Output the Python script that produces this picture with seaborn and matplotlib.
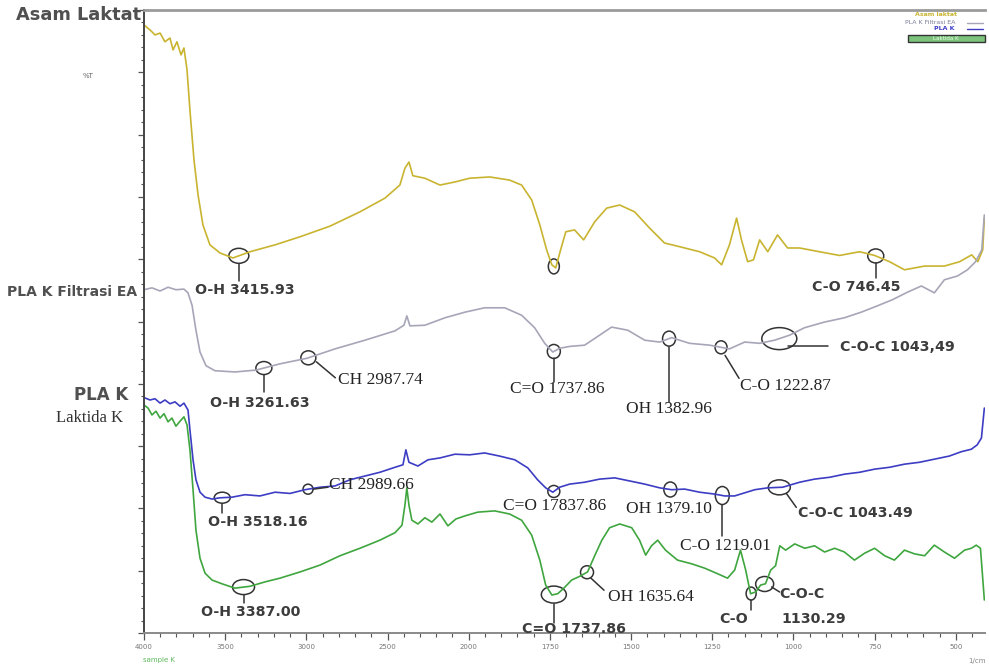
import numpy as np
import pandas as pd
import matplotlib
matplotlib.use("Agg")
import matplotlib.pyplot as plt
import matplotlib.transforms as mtransforms
from matplotlib.patches import Ellipse, Rectangle
from matplotlib.lines import Line2D
import seaborn as sns

# ---- FTIR spectra: wavenumber (cm-1) and transmittance (%T, stacked) ----
asam_wn = [4000, 3963, 3932, 3901, 3871, 3840, 3821, 3797, 3772, 3754, 3735, 3717, 3692,
           3667, 3637, 3594, 3532, 3452, 3347, 3193, 3039, 2855, 2670, 2516, 2424, 2393,
           2368, 2344, 2270, 2177, 2085, 1997, 1935, 1874, 1837, 1806, 1781, 1760, 1744,
           1732, 1717, 1701, 1674, 1646, 1612, 1575, 1535, 1489, 1443, 1397, 1350, 1289,
           1243, 1221, 1197, 1175, 1160, 1141, 1123, 1104, 1079, 1049, 1018, 981, 920,
           858, 796, 750, 704, 658, 596, 535, 488, 451, 432, 417, 412]
asam_t = [97.6, 96.8, 96.0, 96.3, 94.9, 95.5, 93.6, 94.9, 92.8, 93.9, 90.4, 83.9, 75.9,
          70.3, 65.5, 62.3, 61.0, 60.2, 61.2, 62.3, 63.6, 65.3, 67.6, 69.8, 71.9, 74.6,
          75.6, 73.4, 73.0, 71.9, 72.4, 73.0, 73.2, 72.7, 71.9, 69.5, 65.5, 61.5, 59.1,
          58.6, 61.5, 64.4, 64.7, 63.1, 66.0, 68.2, 68.7, 67.6, 65.0, 62.6, 62.0, 61.2,
          60.2, 59.1, 62.3, 66.6, 63.1, 59.6, 59.9, 63.1, 61.2, 63.9, 61.8, 61.8, 61.2,
          60.6, 61.2, 60.6, 59.6, 58.3, 58.9, 58.9, 59.6, 60.7, 59.6, 61.5, 66.6]

filtrasi_wn = [4000, 3951, 3901, 3852, 3803, 3754, 3729, 3704, 3680, 3655, 3618, 3563,
               3440, 3310, 3163, 2996, 2824, 2639, 2454, 2399, 2381, 2362, 2270, 2146,
               2023, 1951, 1889, 1837, 1797, 1766, 1741, 1720, 1689, 1643, 1597, 1560,
               1510, 1458, 1412, 1375, 1320, 1258, 1197, 1150, 1104, 1058, 1012, 966,
               905, 843, 791, 742, 695, 649, 606, 566, 535, 495, 464, 439, 420, 412]
filtrasi_t = [55.1, 55.4, 54.9, 55.5, 55.1, 55.2, 54.6, 52.6, 48.6, 45.1, 42.9, 42.1,
              41.9, 42.2, 43.2, 44.1, 45.6, 47.0, 48.5, 49.4, 50.9, 49.3, 49.4, 50.6,
              51.5, 52.2, 52.2, 51.0, 49.0, 46.5, 45.1, 45.7, 46.0, 46.2, 47.8, 49.1,
              48.6, 47.0, 46.7, 47.4, 46.5, 46.2, 45.6, 46.7, 46.5, 47.0, 47.8, 49.0,
              49.9, 50.6, 51.5, 52.5, 53.5, 54.7, 55.7, 54.6, 56.7, 57.3, 58.3, 59.6,
              61.5, 67.1]

pla_wn = [4000, 3963, 3932, 3901, 3871, 3840, 3809, 3778, 3754, 3729, 3717, 3698, 3680,
          3655, 3624, 3581, 3532, 3458, 3378, 3286, 3193, 3101, 3009, 2916, 2824, 2731,
          2639, 2547, 2454, 2405, 2387, 2368, 2313, 2251, 2177, 2085, 1997, 1951, 1905,
          1858, 1818, 1788, 1763, 1741, 1720, 1689, 1643, 1597, 1550, 1504, 1458, 1412,
          1375, 1335, 1289, 1243, 1212, 1181, 1150, 1119, 1079, 1033, 981, 935, 888,
          842, 796, 750, 704, 658, 612, 566, 520, 483, 452, 434, 421, 412]
pla_t = [37.8, 37.4, 37.6, 36.9, 37.4, 36.8, 37.1, 36.4, 36.9, 35.8, 32.6, 27.8, 24.6,
         22.6, 21.8, 21.5, 21.7, 21.8, 22.2, 22.0, 22.6, 22.4, 23.0, 23.4, 23.6, 24.6,
         25.2, 25.8, 26.6, 27.0, 29.4, 27.4, 26.8, 27.8, 28.1, 28.7, 28.6, 28.9, 28.4,
         27.8, 26.5, 24.6, 23.3, 22.6, 23.4, 23.9, 24.2, 24.7, 24.9, 24.4, 23.9, 23.3,
         23.0, 23.1, 22.6, 22.3, 22.0, 22.0, 22.5, 23.0, 23.3, 23.4, 24.2, 24.7, 25.0,
         25.5, 25.8, 26.3, 26.6, 27.1, 27.4, 27.9, 28.4, 29.1, 29.5, 30.2, 31.3, 36.1]

laktida_wn = [4000, 3975, 3951, 3926, 3901, 3877, 3852, 3828, 3803, 3778, 3754, 3735,
              3717, 3698, 3680, 3655, 3624, 3581, 3520, 3440, 3347, 3255, 3163, 3039,
              2916, 2793, 2670, 2547, 2454, 2411, 2393, 2381, 2368, 2350, 2313, 2270,
              2227, 2177, 2128, 2079, 2023, 1972, 1920, 1874, 1837, 1806, 1781, 1763,
              1744, 1726, 1707, 1683, 1658, 1634, 1612, 1590, 1566, 1535, 1498, 1474,
              1455, 1437, 1418, 1394, 1357, 1313, 1273, 1233, 1203, 1181, 1163, 1147,
              1132, 1116, 1101, 1086, 1070, 1055, 1042, 1024, 996, 965, 935, 904, 873,
              843, 812, 781, 750, 719, 689, 658, 627, 596, 566, 535, 504, 473, 452, 437,
              424, 412]
laktida_t = [36.6, 36.1, 35.0, 35.6, 34.5, 35.2, 33.9, 34.5, 33.2, 34.0, 34.7, 33.4,
             29.4, 23.0, 16.5, 12.0, 9.6, 8.5, 7.9, 7.2, 7.5, 8.2, 8.8, 9.8,
             10.9, 12.4, 13.6, 14.9, 16.1, 17.3, 20.5, 23.3, 20.5, 18.1, 17.5, 18.5,
             17.8, 19.1, 17.2, 18.3, 18.8, 19.4, 19.6, 19.1, 18.1, 15.7, 11.7, 7.7,
             6.1, 6.3, 7.2, 8.5, 9.1, 9.8, 12.4, 14.9, 16.9, 17.5, 16.9, 14.9,
             12.5, 14.0, 14.9, 13.3, 11.7, 11.1, 10.4, 9.5, 8.8, 10.1, 13.3, 10.1,
             6.3, 6.6, 7.7, 7.9, 10.1, 10.8, 14.0, 13.3, 14.3, 13.6, 14.0, 13.0, 13.6,
             13.0, 11.7, 12.8, 13.6, 12.4, 11.7, 13.3, 12.7, 12.4, 14.1, 13.0, 12.0, 13.3,
             13.6, 14.1, 13.6, 5.3]

sample_names = ["Asam Laktat", "PLA K Filtrasi EA", "PLA K", "Laktida K"]
sample_colors = ["#c9b430", "#a6a6b8", "#3d3dc4", "#3fa63f"]
x_major = [4000, 3500, 3000, 2500, 2000, 1750, 1500, 1250, 1000, 750, 500]

series = {
    "Asam Laktat": (asam_wn, asam_t),
    "PLA K Filtrasi EA": (filtrasi_wn, filtrasi_t),
    "PLA K": (pla_wn, pla_t),
    "Laktida K": (laktida_wn, laktida_t),
}
frames = [pd.DataFrame({"wn": w, "T": t, "sample": n}) for n, (w, t) in series.items()]
df = pd.concat(frames, ignore_index=True)

sns.set_theme(style="white")
plt.rcParams["font.family"] = ["DejaVu Sans"]

W, H = 989, 667
fig = plt.figure(figsize=(W / 100, H / 100), dpi=100)
ax = fig.add_axes([144 / W, 34 / H, 841 / W, 623 / H])

sns.lineplot(data=df, x="wn", y="T", hue="sample", palette=dict(zip(sample_names, sample_colors)),
             hue_order=sample_names, estimator=None, sort=False, legend=False, lw=1.2, ax=ax)


# expanded wavenumber scale below 2000 cm-1 (250 cm-1 steps take the space of 500)
def fwd(x):
    x = np.asarray(x, dtype=float)
    return np.where(x >= 2000, x, 2 * x - 2000)


def inv(v):
    v = np.asarray(v, dtype=float)
    return np.where(v >= 2000, v, (v + 2000) / 2)


ax.set_xscale("function", functions=(fwd, inv))
ax.set_xlim(4000, 410)
ax.set_ylim(0, 100)
ax.set_xlabel("")
ax.set_ylabel("")

minor = [v for v in range(3900, 2000, -100) if v not in x_major] + \
        [v for v in range(1950, 410, -50) if v not in x_major]
ax.xaxis.set_major_locator(matplotlib.ticker.FixedLocator(x_major))
ax.xaxis.set_minor_locator(matplotlib.ticker.FixedLocator(minor))
ax.set_xticklabels([str(v) for v in x_major])
ax.yaxis.set_major_locator(matplotlib.ticker.MultipleLocator(10))
ax.yaxis.set_minor_locator(matplotlib.ticker.MultipleLocator(2))
ax.set_yticklabels([])
ax.tick_params(axis="x", which="major", direction="out", length=5, width=0.9, color="#555",
               labelsize=5, labelcolor="#777", pad=3, bottom=True)
ax.tick_params(axis="x", which="minor", direction="out", length=3, width=0.8, color="#555", bottom=True)
ax.tick_params(axis="y", which="major", direction="out", length=4, width=0.9, color="#555", left=True)
ax.tick_params(axis="y", which="minor", direction="out", length=2.5, width=0.8, color="#555", left=True)
for lab in ax.get_xticklabels():
    lab.set_horizontalalignment("center")

ax.spines["right"].set_visible(False)
ax.spines["top"].set_color("#9a9a9a")
ax.spines["top"].set_linewidth(2)
ax.spines["left"].set_color("#444")
ax.spines["left"].set_linewidth(1.4)
ax.spines["bottom"].set_color("#8a8a8a")
ax.spines["bottom"].set_linewidth(1.4)

# ---- peak markers and assignments ----
SANS = dict(family="DejaVu Sans", weight="bold", fontsize=10.2, color="#3c3c3c")
SERIF = dict(family="Liberation Serif", fontsize=12.5, color="#222")

# (sample, wavenumber, ring w, ring h, leader (x0, y0, x1, y1) px, [(text, dx, dy, ha, style)])
peaks = [
    ("Asam Laktat", 3415.93, 20, 15, (0, 8, 0, 25), [("O-H 3415.93", 6, 34, "center", SANS)]),
    ("Asam Laktat", 1737.86, 11, 15, None, []),
    ("Asam Laktat", 746.45, 16, 14, (0, 7, 0, 22), [("C-O 746.45", -20, 31, "center", SANS)]),
    ("PLA K Filtrasi EA", 3261.63, 16, 13, (0, 7, 0, 24), [("O-H 3261.63", -4, 35, "center", SANS)]),
    ("PLA K Filtrasi EA", 2987.74, 15, 14, (8, 4, 27, 20), [("CH 2987.74", 30, 22, "left", SERIF)]),
    ("PLA K Filtrasi EA", 1737.86, 13, 14, (0, 7, 0, 31), [("C=O 1737.86", 3, 38, "center", SERIF)]),
    ("PLA K Filtrasi EA", 1382.96, 13, 15, (0, 8, 0, 63), [("OH 1382.96", 0, 70, "center", SERIF)]),
    ("PLA K Filtrasi EA", 1222.87, 12, 13, (4, 8, 18, 31), [("C-O 1222.87", 19, 39, "left", SERIF)]),
    ("PLA K Filtrasi EA", 1043.49, 35, 22, (9, 7, 49, 7), [("C-O-C 1043,49", 61, 8, "left", SANS)]),
    ("PLA K", 3518.16, 16, 11, (0, 6, 0, 15), [("O-H 3518.16", 36, 24, "center", SANS)]),
    ("PLA K", 2989.66, 10, 10, (5, 0, 20, -2), [("CH 2989.66", 21, -4, "left", SERIF)]),
    ("PLA K", 1737.86, 12, 12, None, [("C=O 17837.86", 1, 15, "center", SERIF)]),
    ("PLA K", 1379.10, 13, 15, None, [("OH 1379.10", -1, 19, "center", SERIF)]),
    ("PLA K", 1219.01, 14, 18, (0, 9, 0, 40), [("C-O 1219.01", 3, 50, "center", SERIF)]),
    ("PLA K", 1043.49, 22, 15, (7, 6, 17, 20), [("C-O-C 1043.49", 19, 26, "left", SANS)]),
    ("Laktida K", 3387.00, 22, 15, (0, 8, 0, 16), [("O-H 3387.00", 7, 25, "center", SANS)]),
    ("Laktida K", 1737.86, 25, 17, (0, 9, 0, 28), [("C=O 1737.86", 20, 34, "center", SANS)]),
    ("Laktida K", 1635.64, 13, 13, (4, 6, 17, 18), [("OH 1635.64", 21, 25, "left", SERIF)]),
    ("Laktida K", 1130.29, 10, 13, (0, 6, 0, 16), [("C-O", -17, 25, "center", SANS),
                                                   ("1130.29", 63, 25, "center", SANS)]),
    ("Laktida K", 1088.6, 18, 15, (7, 3, 15, 8), [("C-O-C", 15, 10, "left", SANS)]),
]

for name, wn, ew, eh, lead, texts in peaks:
    w_arr, t_arr = series[name]
    t = float(np.interp(wn, w_arr[::-1], t_arr[::-1]))
    anchor = fig.dpi_scale_trans + mtransforms.ScaledTranslation(wn, t, ax.transData)
    ax.add_patch(Ellipse((0, 0), ew / 100, eh / 100, transform=anchor, fill=False,
                         ec="#333", lw=1.1, clip_on=False))
    if lead is not None:
        x0, y0, x1, y1 = lead
        ax.add_line(Line2D([x0 / 100, x1 / 100], [-y0 / 100, -y1 / 100], transform=anchor,
                           color="#333", lw=1.1, clip_on=False))
    for txt, dx, dy, ha, style in texts:
        ax.annotate(txt, xy=(wn, t), xycoords="data", xytext=(dx, -dy), textcoords="offset pixels",
                    ha=ha, va="center", **style)

# ---- sample names along the left edge ----
def ftext(px, py, s, **kw):
    fig.text(px / W, 1 - py / H, s, va="center", **kw)


ftext(16, 15, "Asam Laktat", family="DejaVu Sans", weight="bold", fontsize=12.8, color="#505050")
ftext(137, 292, "PLA K Filtrasi EA", family="DejaVu Sans", weight="bold", fontsize=10,
      color="#505050", ha="right")
ftext(128, 395, "PLA K", family="DejaVu Sans", weight="bold", fontsize=12, color="#505050", ha="right")
ftext(123, 418, "Laktida K", family="Liberation Serif", fontsize=12, color="#333", ha="right")
ftext(88, 76, "%T", family="DejaVu Sans", fontsize=5, color="#666", ha="center")
ftext(143, 660, "sample K", family="DejaVu Sans", fontsize=5, color="#5cb85c")
ftext(986, 661, "1/cm", family="DejaVu Sans", fontsize=5, color="#888", ha="right")

# ---- small legend in the upper right ----
ftext(957, 15, "Asam laktat", family="DejaVu Sans", weight="bold", fontsize=4.5,
      color=sample_colors[0], ha="right")
ftext(955, 23, "PLA K Filtrasi EA", family="DejaVu Sans", fontsize=4.5, color="#7a7a9a", ha="right")
ftext(955, 29, "PLA K", family="DejaVu Sans", weight="bold", fontsize=4.5, color=sample_colors[2], ha="right")
fig.add_artist(Line2D([967 / W, 983 / W], [1 - 23 / H, 1 - 23 / H], color=sample_colors[1], lw=1))
fig.add_artist(Line2D([967 / W, 983 / W], [1 - 29 / H, 1 - 29 / H], color=sample_colors[2], lw=1))
fig.add_artist(Rectangle((908 / W, 1 - 42 / H), 77 / W, 7 / H, transform=fig.transFigure,
                         fc="#7cc47c", ec="#333", lw=1))
ftext(946, 38.5, "Laktida K", family="DejaVu Sans", fontsize=4, color="#e8ffe8", ha="center")

fig.savefig("out.png", dpi=100)
